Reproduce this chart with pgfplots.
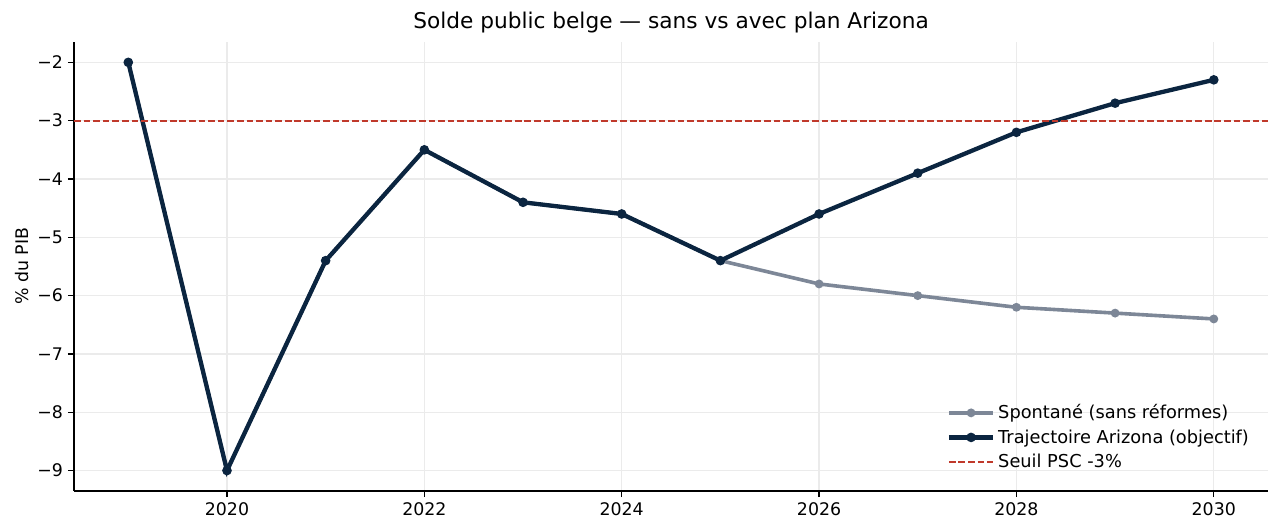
\documentclass[border=0pt]{standalone}
\usepackage{fontspec}
\setmainfont{DejaVu Sans}
\usepackage{pgfplots}
\pgfplotsset{compat=1.18}
\definecolor{navy}{HTML}{0B2540}
\definecolor{grayline}{HTML}{7D8797}
\definecolor{redd}{HTML}{C0392B}
\begin{document}
\begin{tikzpicture}
\path[use as bounding box] (-53.3pt,-20.2pt) rectangle (861.1pt,353.5pt);
\begin{axis}[
  scale only axis,
  width=859.7pt, height=323.3pt,
  xmin=2018.45, xmax=2030.55,
  ymin=-9.35, ymax=-1.65,
  axis x line*=bottom, axis y line*=left,
  axis line style={line width=1pt, -},
  tick align=outside,
  major tick length=4.5pt,
  tick style={line width=1pt, black},
  xtick={2020,2022,2024,2026,2028,2030},
  xticklabels={2020,2022,2024,2026,2028,2030},
  ytick={-9,-8,-7,-6,-5,-4,-3,-2},
  yticklabels={−9,−8,−7,−6,−5,−4,−3,−2},
  ticklabel style={font=\fontsize{12.5}{15}\selectfont},
  grid=major,
  grid style={line width=0.9pt, black!8},
  title={Solde public belge — sans vs avec plan Arizona},
  title style={font=\fontsize{15.6}{18}\selectfont, yshift=-3pt},
  ylabel={\% du PIB},
  ylabel style={font=\fontsize{12.5}{15}\selectfont, yshift=-1pt},
  legend style={at={(0.99,0.035)}, anchor=south east, draw=none, fill=none,
     font=\fontsize{12.8}{15}\selectfont, row sep=2.2pt},
  legend cell align=left,
  legend image code/.code={\draw[mark repeat=2,mark phase=2] plot coordinates {(0pt,0pt) (16pt,0pt) (32pt,0pt)};},
]
\addplot[grayline, line width=2.6pt, mark=*, mark size=1.8pt] coordinates {
 (2019,-2) (2020,-9) (2021,-5.4) (2022,-3.5) (2023,-4.4) (2024,-4.6) (2025,-5.4)
 (2026,-5.8) (2027,-6.0) (2028,-6.2) (2029,-6.3) (2030,-6.4)};
\addlegendentry{Spontané (sans réformes)}
\addplot[navy, line width=3.1pt, mark=*, mark size=1.8pt] coordinates {
 (2019,-2) (2020,-9) (2021,-5.4) (2022,-3.5) (2023,-4.4) (2024,-4.6) (2025,-5.4)
 (2026,-4.6) (2027,-3.9) (2028,-3.2) (2029,-2.7) (2030,-2.3)};
\addlegendentry{Trajectoire Arizona (objectif)}
\addplot[redd, line width=1.3pt, dash pattern=on 4.8pt off 2.1pt] coordinates {(2018.45,-3) (2030.55,-3)};
\addlegendentry{Seuil PSC -3\%}
\end{axis}
\end{tikzpicture}
\end{document}
